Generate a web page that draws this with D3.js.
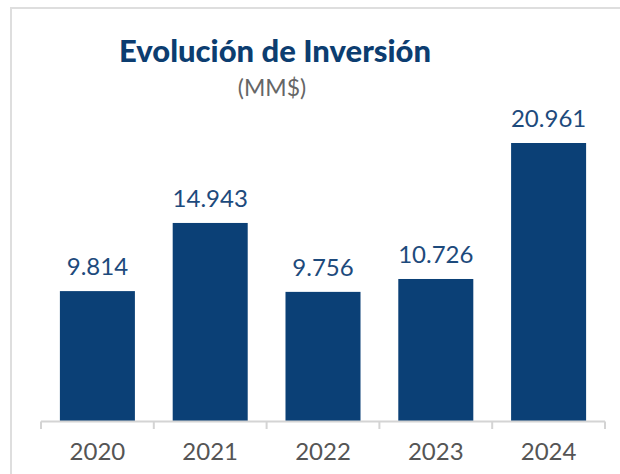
<!DOCTYPE html>
<html><head><meta charset="utf-8">
<script src="https://cdn.jsdelivr.net/npm/d3@7"></script>
<style>body{margin:0;background:#fff}svg{display:block}</style>
</head><body>
<script>
const categories = ["2020","2021","2022","2023","2024"];
const values = [9814, 14943, 9756, 10726, 20961];
const valueLabels = ["9.814","14.943","9.756","10.726","20.961"];
const title = "Evolución de Inversión";
const subtitle = "(MM$)";

const W = 620, H = 474;
const svg = d3.select("body").append("svg").attr("width", W).attr("height", H);

svg.append("rect").attr("x", 11).attr("y", 8).attr("width", 640).attr("height", 500)
  .attr("fill", "none").attr("stroke", "#dedede").attr("stroke-width", 2);

const x = d3.scaleBand().domain(categories).range([41, 605]).paddingInner(0.335).paddingOuter(0.1675);
const y = d3.scaleLinear().domain([0, 20961]).range([421.5, 143]);

svg.append("text").attr("x", 275).attr("y", 62).attr("text-anchor", "middle")
  .attr("font-family", "Lato").attr("font-weight", 900).attr("font-size", 31)
  .attr("fill", "#0c3d70").text(title);
svg.append("text").attr("x", 272).attr("y", 96).attr("text-anchor", "middle")
  .attr("font-family", "Lato").attr("font-size", 23)
  .attr("fill", "#666").text(subtitle);

svg.selectAll("rect.bar").data(values).enter().append("rect").attr("class", "bar")
  .attr("x", (d, i) => x(categories[i])).attr("width", x.bandwidth())
  .attr("y", d => y(d)).attr("height", d => y(0) - y(d))
  .attr("fill", "#0b4076");

svg.selectAll("text.val").data(values).enter().append("text").attr("class", "val")
  .attr("x", (d, i) => x(categories[i]) + x.bandwidth() / 2)
  .attr("y", d => y(d) - 16).attr("text-anchor", "middle")
  .attr("font-family", "Lato").attr("font-size", 24).attr("fill", "#1d4a7c")
  .text((d, i) => valueLabels[i]);

// axis
const axisG = svg.append("g");
axisG.append("line").attr("x1", 41).attr("x2", 605).attr("y1", 421.5).attr("y2", 421.5)
  .attr("stroke", "#d4d4d4").attr("stroke-width", 2);
const bounds = categories.map(c => x(c) - x.step() * x.paddingInner() / 2).concat([605]);
axisG.selectAll("line.tick").data(bounds).enter().append("line").attr("class", "tick")
  .attr("x1", d => d).attr("x2", d => d).attr("y1", 421.5).attr("y2", 429)
  .attr("stroke", "#d4d4d4").attr("stroke-width", 2);
axisG.selectAll("text.cat").data(categories).enter().append("text").attr("class", "cat")
  .attr("x", d => x(d) + x.bandwidth() / 2).attr("y", 460).attr("text-anchor", "middle")
  .attr("font-family", "Lato").attr("font-size", 24).attr("fill", "#555")
  .text(d => d);
</script>
</body></html>
